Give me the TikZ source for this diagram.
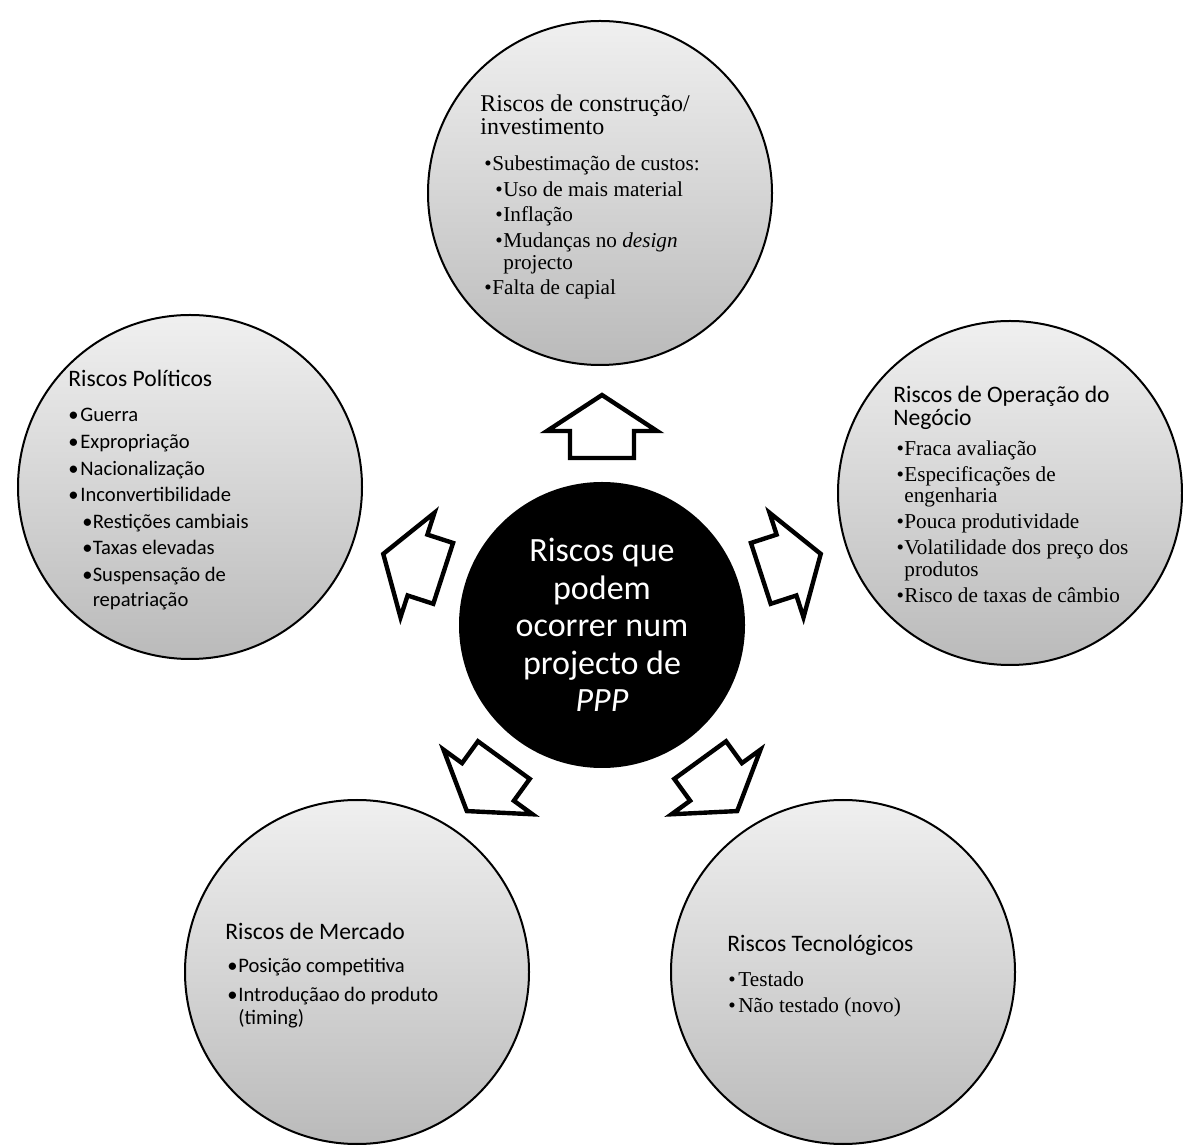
\documentclass[tikz,border=0pt]{standalone}
\usepackage{fontspec}
\setmainfont{Liberation Serif}
\newfontfamily\calibri{Carlito}

% bullet lists inside the circles
\newlength\bulx \newlength\txtx \newlength\subbulx \newlength\subtxtx
\newcommand{\bul}[1]{\par\hangindent=\txtx\hangafter=1\noindent\hbox to\txtx{\hskip\bulx\textbullet\hfil}#1}
\newcommand{\subbul}[1]{\par\hangindent=\subtxtx\hangafter=1\noindent\hbox to\subtxtx{\hskip\subbulx\textbullet\hfil}#1}
\newcommand{\risktext}[1]{\vtop{\hsize=200pt\parindent=0pt\parskip=0pt #1\par}}

\begin{document}
\begin{tikzpicture}[x=0.5pt,y=0.5pt]

\def\rr{172pt}
\tikzstyle{risk} = [
	draw=black, line width=1pt, circle, inner sep=0pt,
	minimum size=\rr, top color=black!6, bottom color=black!27 ];
\tikzstyle{core} = [
	circle, fill=black, minimum size=143pt, inner sep=0pt,
	text=white, align=center,
	font=\calibri\fontsize{17}{18.8}\selectfont ];
\tikzstyle{blockarrow} = [draw=black, line width=2.2pt, fill=white, line join=miter];
\tikzstyle{label} = [anchor=base west, inner sep=0pt];
\fill[white] (0,0) rectangle (1183,1146);
\useasboundingbox (0,0) rectangle (1183,1146);

\node[risk] (r0) at (600,953) {};
\node[risk] (r1) at (190,659) {};
\node[risk] (r2) at (1010,653) {};
\node[risk] (r3) at (357,174) {};
\node[risk] (r4) at (843,174) {};

\node[core] (h) at (602,521) {Riscos que\\podem\\ocorrer num\\projecto de\\\textit{PPP}};

% arrows from the centre outwards
\foreach \ang in {90,162,234,306,18}
	\draw[blockarrow, shift={(h.center)}, rotate=\ang]
		(167,-32) -- (194,-32) -- (194,-55) -- (230,0) -- (194,55) -- (194,32) -- (167,32) -- cycle;

\node[label] (t0) at (480,1034) {\risktext{%
	\fontsize{12}{10}\selectfont Riscos de construção/\newline investimento\par
	\vskip 5.3pt
	\fontsize{10.6}{11}\selectfont\parskip=1.7pt
	\setlength\bulx{2pt}\setlength\txtx{6pt}\setlength\subbulx{7.5pt}\setlength\subtxtx{11.5pt}
	\bul{Subestimação de custos:}
	\subbul{Uso de mais material}
	\subbul{Inflação}
	\subbul{Mudanças no \textit{design}\newline projecto}
	\bul{Falta de capial}}};

\node[label] (t1) at (68,759) {\risktext{%
	\calibri\fontsize{11.8}{10}\selectfont Riscos Políticos\par
	\vskip 4.2pt
	\fontsize{10.3}{12.5}\selectfont\parskip=0.8pt
	\setlength\bulx{0pt}\setlength\txtx{6pt}\setlength\subbulx{7pt}\setlength\subtxtx{12.2pt}
	\bul{Guerra}
	\bul{Expropriação}
	\bul{Nacionalização}
	\bul{Inconvertibilidade}
	\subbul{Restições cambiais}
	\subbul{Taxas elevadas}
	\subbul{Suspensação de\newline repatriação}}};

\node[label] (t2) at (893,743) {\risktext{%
	{\calibri\fontsize{11.8}{10}\selectfont Riscos de Operação do\newline Negócio\par}
	\vskip 2pt
	\fontsize{10.6}{10.8}\selectfont\parskip=2.2pt
	\setlength\bulx{1.6pt}\setlength\txtx{5.5pt}
	\bul{Fraca avaliação}
	\bul{Especificações de\newline engenharia}
	\bul{Pouca produtividade}
	\bul{Volatilidade dos preço dos\newline produtos}
	\bul{Risco de taxas de câmbio}}};

\node[label] (t3) at (225,206) {\risktext{%
	\calibri\fontsize{11.8}{10}\selectfont Riscos de Mercado\par
	\vskip 2pt
	\fontsize{10.3}{11.5}\selectfont\parskip=3pt
	\setlength\bulx{1pt}\setlength\txtx{6.5pt}
	\bul{Posição competitiva}
	\bul{Introduçãao do produto\newline (timing)}}};

\node[label] (t4) at (727,194) {\risktext{%
	{\calibri\fontsize{11.8}{10}\selectfont Riscos Tecnológicos\par}
	\vskip 4.5pt
	\fontsize{10.6}{11}\selectfont\parskip=2pt
	\setlength\bulx{0.5pt}\setlength\txtx{5.5pt}
	\bul{Testado}
	\bul{Não testado (novo)}}};

\end{tikzpicture}
\end{document}
